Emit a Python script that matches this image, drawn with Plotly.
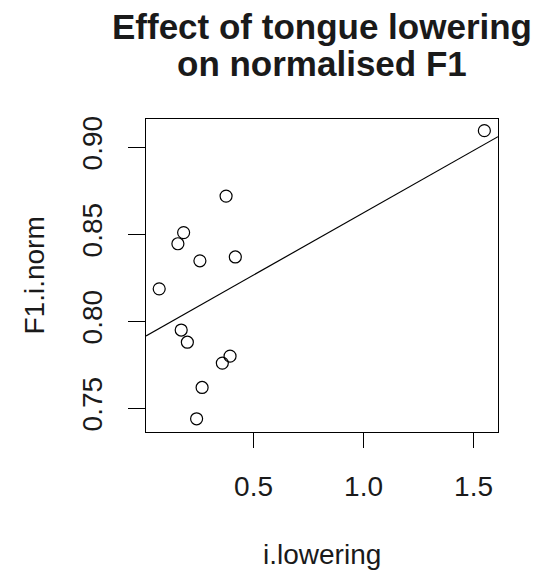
import numpy as np
import plotly.graph_objects as go

# Data
i_lowering = [0.375, 0.182, 0.156, 0.256, 0.417, 1.549, 0.071, 0.171, 0.199, 0.393, 0.358, 0.266, 0.241]
f1_i_norm = [0.872, 0.851, 0.8446, 0.8348, 0.837, 0.9096, 0.8187, 0.795, 0.788, 0.780, 0.776, 0.762, 0.744]

x_ticks = [0.5, 1.0, 1.5]
x_tick_labels = ["0.5", "1.0", "1.5"]
y_ticks = [0.75, 0.80, 0.85, 0.90]
y_tick_labels = ["0.75", "0.80", "0.85", "0.90"]

x_range = [0.011, 1.611]
y_range = [0.7364, 0.9163]

title_lines = ["Effect of tongue lowering", "on normalised F1"]
x_title = "i.lowering"
y_title = "F1.i.norm"

# Least-squares regression line (abline(lm(...)))
slope, intercept = np.polyfit(i_lowering, f1_i_norm, 1)
line_x = np.array(x_range)
line_y = intercept + slope * line_x

FONT = "Liberation Sans, Arial, sans-serif"
TXT = "#1a1a1a"

fig = go.Figure()
fig.add_trace(go.Scatter(
    x=i_lowering, y=f1_i_norm, mode="markers",
    marker=dict(symbol="circle-open", size=12, color="black", line=dict(width=1.2, color="black")),
    showlegend=False, hoverinfo="skip",
))
fig.add_trace(go.Scatter(
    x=line_x, y=line_y, mode="lines",
    line=dict(color="black", width=1.2),
    showlegend=False, hoverinfo="skip",
))

# page body has an 8px margin, so the figure is offset by 8px
W, H = 531, 566
ml, mt = 138, 111
plot_w, plot_h = 352, 313
mr = W - ml - plot_w
mb = H - mt - plot_h

fig.update_layout(
    width=W, height=H,
    margin=dict(l=ml, r=mr, t=mt, b=mb, pad=0),
    paper_bgcolor="white", plot_bgcolor="white",
    font=dict(family=FONT, color=TXT, size=28),
    xaxis=dict(
        range=x_range, tickvals=x_ticks, ticktext=x_tick_labels,
        showgrid=False, zeroline=False,
        showline=True, mirror=True, linecolor="black", linewidth=1.2,
        ticks="outside", ticklen=15, tickwidth=1.2, tickcolor="black",
        ticklabelstandoff=14,
        tickfont=dict(size=28, family=FONT, color=TXT),
    ),
    yaxis=dict(
        range=y_range, tickvals=y_ticks, ticktext=y_tick_labels,
        showgrid=False, zeroline=False,
        showline=True, mirror=True, linecolor="black", linewidth=1.2,
        ticks="outside", ticklen=17, tickwidth=1.2, tickcolor="black",
        tickangle=-90, ticklabelstandoff=15,
        tickfont=dict(size=28, family=FONT, color=TXT),
    ),
    annotations=[
        dict(text="<b>%s</b>" % title_lines[0], xref="paper", yref="paper", x=0.5, y=1,
             xanchor="center", yanchor="middle", yshift=93, showarrow=False,
             font=dict(size=35, family=FONT, color=TXT)),
        dict(text="<b>%s</b>" % title_lines[1], xref="paper", yref="paper", x=0.5, y=1,
             xanchor="center", yanchor="middle", yshift=56, showarrow=False,
             font=dict(size=35, family=FONT, color=TXT)),
        dict(text=x_title, xref="paper", yref="paper", x=0.5, y=0,
             xanchor="center", yanchor="middle", yshift=-122, showarrow=False,
             font=dict(size=28, family=FONT, color=TXT)),
        dict(text=y_title, xref="paper", yref="paper", x=0, y=0.5,
             xanchor="center", yanchor="middle", xshift=-112, textangle=-90, showarrow=False,
             font=dict(size=28, family=FONT, color=TXT)),
    ],
)

fig.write_html("out.html")
